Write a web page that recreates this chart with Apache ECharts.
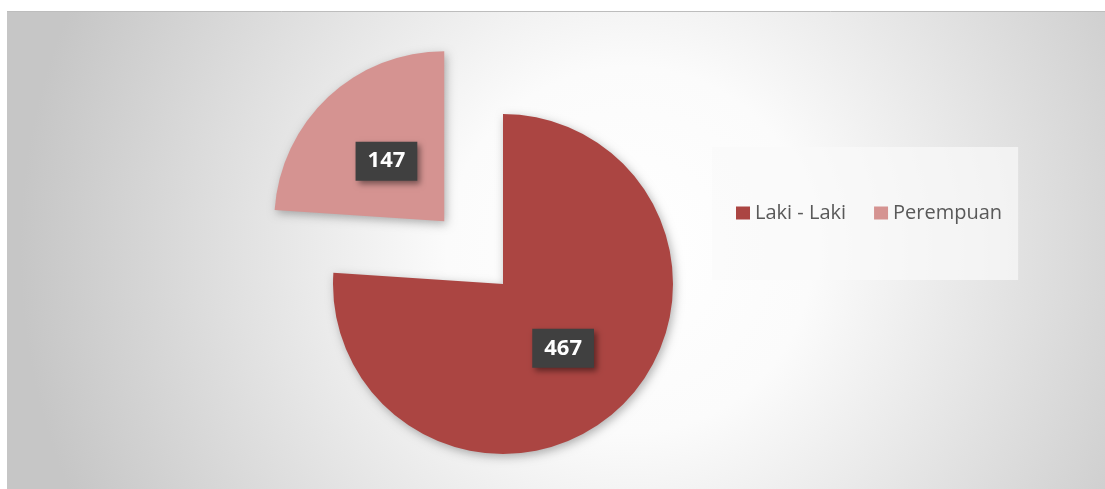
<!DOCTYPE html>
<html>
<head>
  <meta charset="UTF-8">
  <title>Laki - Laki / Perempuan</title>
  <script src="https://cdn.jsdelivr.net/npm/echarts@6/dist/echarts.min.js"></script>
  <style>
    html, body { margin: 0; padding: 0; background: #fff; }
    #chart { width: 1105px; height: 489px; }
  </style>
</head>
<body>
  <div id="chart"></div>
  <script>
// data
const categories = ['Laki - Laki', 'Perempuan']
const values = [467, 147]
const colors = ['#AB4542', '#D59391']

const echart = echarts.init(document.getElementById('chart'))

const labelStyle = {
  show: true,
  position: 'inside',
  formatter: '{c}',
  color: '#fff',
  fontFamily: 'Open Sans',
  fontWeight: 'bold',
  fontSize: 22,
  backgroundColor: '#404040',
  padding: [9, 12, 8, 12],
  shadowColor: 'rgba(0,0,0,0.45)',
  shadowBlur: 6,
  shadowOffsetX: 3,
  shadowOffsetY: 3
}
// the exploded slice puts its inside label too far out, pull it back
const labelFix = [{}, { offset: [27, 25] }]

const option = {
  animation: false,
  graphic: [
    {
      // chart area background, radial fade
      type: 'rect',
      shape: { x: 7, y: 11, width: 1098, height: 478 },
      style: {
        fill: new echarts.graphic.RadialGradient(630, 250, 610, [
          { offset: 0, color: '#ffffff' },
          { offset: 0.3, color: '#fbfbfb' },
          { offset: 1, color: '#c6c6c6' }
        ], true)
      },
      z: -10,
      silent: true
    },
    {
      type: 'line',
      shape: { x1: 7, y1: 11.5, x2: 1105, y2: 11.5 },
      style: { stroke: '#bdbdbd', lineWidth: 1 },
      z: -9,
      silent: true
    }
  ],
  legend: {
    left: 712,
    top: 147,
    orient: 'horizontal',
    icon: 'rect',
    itemWidth: 14,
    itemHeight: 13,
    itemGap: 28,
    padding: [56, 16, 57, 24],
    backgroundColor: 'rgba(250,250,250,0.7)',
    textStyle: {
      color: '#595959',
      fontFamily: 'Open Sans',
      fontSize: 20
    },
    selectedMode: false,
    data: categories
  },
  series: [
    {
      type: 'pie',
      center: [503, 284],
      radius: 170,
      startAngle: 90,
      clockwise: true,
      selectedMode: 'single',
      selectedOffset: 86,
      itemStyle: {
        shadowColor: 'rgba(0,0,0,0.3)',
        shadowBlur: 10,
        shadowOffsetX: 2,
        shadowOffsetY: 3
      },
      label: labelStyle,
      labelLine: { show: false },
      emphasis: { disabled: true },
      data: categories.map((name, i) => ({
        name,
        value: values[i],
        selected: i === 1,
        itemStyle: { color: colors[i] },
        label: labelFix[i],
        select: { itemStyle: { color: colors[i] }, label: Object.assign({}, labelStyle, labelFix[i]) }
      }))
    }
  ]
}
echart.setOption(option)
  </script>
</body>
</html>
